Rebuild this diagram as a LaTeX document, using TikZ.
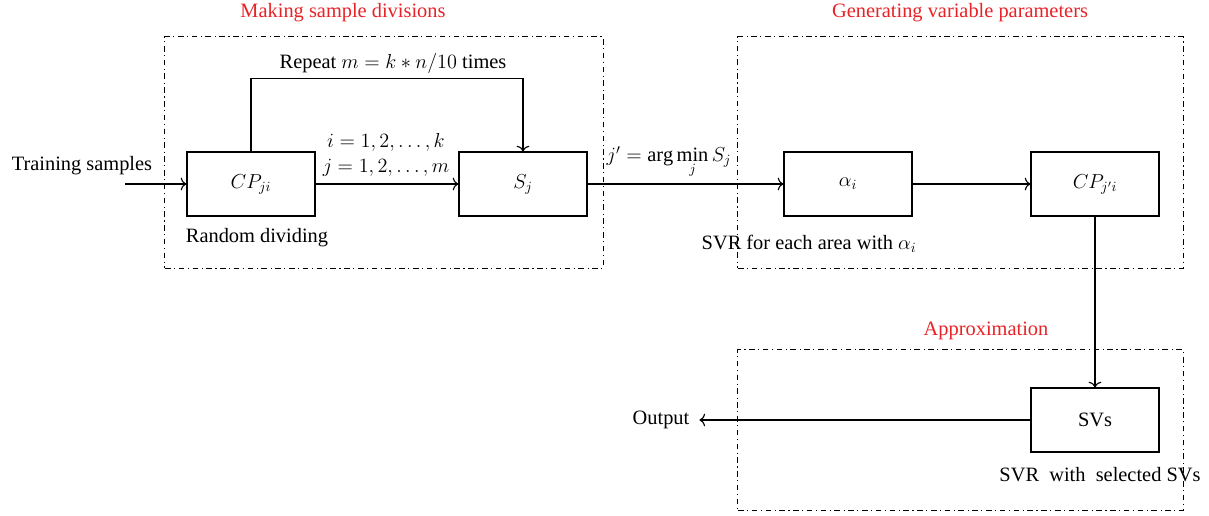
\documentclass[tikz,border=0pt]{standalone}
\usepackage{fontspec}
\setmainfont{Liberation Serif}
\usetikzlibrary{positioning, arrows.meta}
\definecolor{titlered}{RGB}{232,34,38}
\tikzstyle{block} = [
    rectangle,
    minimum width=3.2cm,
    minimum height=1.6cm,
    draw=black,
    line width=0.8pt
]
\tikzstyle{panel} = [
    rectangle,
    draw=black,
    line width=0.7pt,
    dash pattern=on 4pt off 2.5pt on 0.8pt off 2.5pt
]
\tikzstyle{title} = [text=titlered]
\tikzstyle{label} = [inner sep=1pt]
\tikzstyle{arrow} = [line width=0.8pt,-{To[length=4pt,width=9pt]}]

\begin{document}
\begin{tikzpicture}[x=0.025cm, y=-0.025cm,
    font=\fontsize{14.5}{17.5}\selectfont]
\useasboundingbox (0,0) rectangle (1209,515);

% dash-dotted areas
\node (area1) [panel, minimum width=10.95cm, minimum height=5.775cm] at (384,152.5) {};
\node (area2) [panel, minimum width=11.125cm, minimum height=5.775cm] at (960.5,152.5) {};
\node (area3) [panel, minimum width=11.125cm, minimum height=4cm] at (960.5,430) {};

\node (t1) [title] at (343,13) {Making sample divisions};
\node (t2) [title] at (960,13) {Generating variable parameters};
\node (t3) [title] at (986,331) {Approximation};

% blocks
\node (cp) [block] at (251,184) {$CP_{ji}$};
\node (sj) [block] at (523,184) {$S_j$};
\node (alpha) [block] at (848,184) {$\alpha_i$};
\node (cpsel) [block] at (1095,184) {$CP_{j'i}$};
\node (svs) [block] at (1095,420) {SVs};

\node (train) [label] at (82,166) {Training samples};
\coordinate (in) at (125,184);
\node (out) [label] at (661,420) {Output};

\node (rand) [label] at (257,238) {Random dividing};
\node (svr) [label] at (809,244) {SVR for each area with $\alpha_i$};
\node (svrsel) [label] at (1100,475) {SVR\ \ with\ \ selected SVs};

\node (rep) [label] at (393,63) {Repeat $m = k \ast n/10$ times};
\node (ij) [label, align=center] at (386,155) {$i = 1, 2, \ldots, k$\\ $j = 1, 2, \ldots, m$};
\node (amin) [label] at (669,162) {$j' = \arg\min\limits_j S_j$};

% connectors
\draw [arrow] (in) -- (cp);
\draw [arrow] (cp) -- (sj);
\draw [arrow] (cp.north) -- ++(0,-73) -| (sj.north);
\draw [arrow] (sj) -- (alpha);
\draw [arrow] (alpha) -- (cpsel);
\draw [arrow] (cpsel.south) -- (svs.north);
\draw [arrow] (svs) -- ([xshift=6pt]out.east);

\end{tikzpicture}
\end{document}
